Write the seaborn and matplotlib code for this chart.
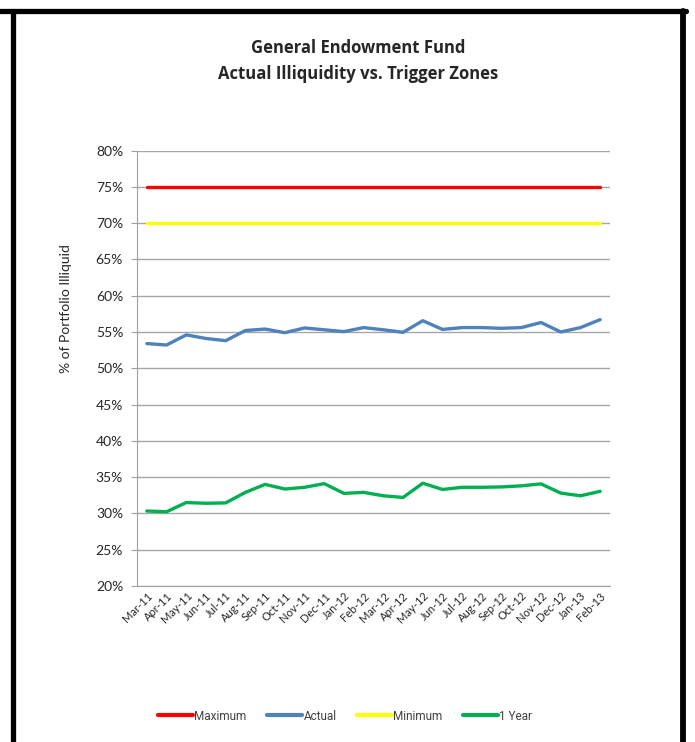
import matplotlib
matplotlib.use("Agg")
import matplotlib.pyplot as plt
import seaborn as sns
import pandas as pd
from matplotlib.lines import Line2D
from matplotlib.ticker import PercentFormatter

months = ["Mar-11", "Apr-11", "May-11", "Jun-11", "Jul-11", "Aug-11", "Sep-11", "Oct-11",
          "Nov-11", "Dec-11", "Jan-12", "Feb-12", "Mar-12", "Apr-12", "May-12", "Jun-12",
          "Jul-12", "Aug-12", "Sep-12", "Oct-12", "Nov-12", "Dec-12", "Jan-13", "Feb-13"]
maximum = [75] * 24
minimum = [70] * 24
actual = [53.4, 53.2, 54.6, 54.1, 53.8, 55.2, 55.4, 54.9, 55.55, 55.3, 55.05, 55.6,
          55.3, 54.95, 56.55, 55.35, 55.6, 55.6, 55.5, 55.6, 56.3, 55.0, 55.6, 56.7]
one_year = [30.33, 30.23, 31.5, 31.4, 31.45, 32.9, 34.0, 33.36, 33.6, 34.1, 32.76, 32.9,
            32.43, 32.2, 34.16, 33.3, 33.6, 33.6, 33.65, 33.8, 34.07, 32.8, 32.43, 33.04]

series = ["Maximum", "Actual", "Minimum", "1 Year"]
colors = {"Maximum": "#FF0000", "Actual": "#4F81BD", "Minimum": "#FFFF00", "1 Year": "#00B050"}

df = pd.DataFrame({"Month": months, "Maximum": maximum, "Actual": actual,
                   "Minimum": minimum, "1 Year": one_year})
df["idx"] = range(len(months))
long = df.melt(id_vars=["Month", "idx"], value_vars=series, var_name="Series", value_name="Value")

sns.set_style("white")
plt.rcParams["font.family"] = ["Lato", "DejaVu Sans"]

fig = plt.figure(figsize=(6.95, 7.42), dpi=100)
ax = fig.add_axes([137 / 695, 1 - 586 / 742, (610 - 137) / 695, (586 - 150.5) / 742])

sns.lineplot(data=long, x="idx", y="Value", hue="Series", hue_order=series,
             palette=colors, linewidth=2.4, ax=ax, legend=False, zorder=3)

ax.set_xlim(-0.5, len(months) - 0.5)
ax.set_ylim(20, 80)
ax.set_yticks(range(20, 81, 5))
ax.yaxis.set_major_formatter(PercentFormatter(decimals=0))
ax.set_xticks(range(len(months)))
ax.set_xticklabels(months, rotation=45, ha="right", rotation_mode="anchor", fontsize=8)
ax.tick_params(axis="y", labelsize=10, length=4, color="#A0A0A0", pad=6, left=True)
ax.tick_params(axis="x", length=0, pad=3)
ax.grid(axis="y", color="#A6A6A6", linewidth=1)
ax.set_axisbelow(True)
for s in ["top", "right"]:
    ax.spines[s].set_visible(False)
ax.spines["left"].set_color("#A0A0A0")
ax.spines["bottom"].set_color("#A0A0A0")
ax.set_xlabel("")
ax.set_ylabel("% of Portfolio Illiquid", fontsize=10)
ax.yaxis.set_label_coords(-0.138, 0.636)

fig.text(358 / 695, 1 - 61 / 742,
         "General Endowment Fund\nActual Illiquidity vs. Trigger Zones",
         ha="center", va="center", fontsize=12, fontweight="bold", linespacing=1.55,
         family=["Open Sans", "DejaVu Sans"])

handles = [Line2D([], [], color=colors[s], linewidth=3) for s in series]
fig.legend(handles, series, loc="center", bbox_to_anchor=(345 / 695, 1 - 716 / 742),
           ncol=4, frameon=False, handlelength=3.0, handletextpad=0.1,
           columnspacing=1.7, labelcolor="#404040",
           prop={"family": ["Roboto", "DejaVu Sans"], "size": 8.5})

# outer black frame
fig.add_artist(Line2D([0, 686 / 695], [1 - 10.5 / 742] * 2, color="black", linewidth=3.8,
                      transform=fig.transFigure))
fig.add_artist(Line2D([12.5 / 695] * 2, [0, 1 - 10.5 / 742], color="black", linewidth=3.8,
                      transform=fig.transFigure))
fig.add_artist(Line2D([683 / 695] * 2, [0, 1 - 10.5 / 742], color="black", linewidth=4.2,
                      transform=fig.transFigure))

fig.savefig("out.png", dpi=100)
